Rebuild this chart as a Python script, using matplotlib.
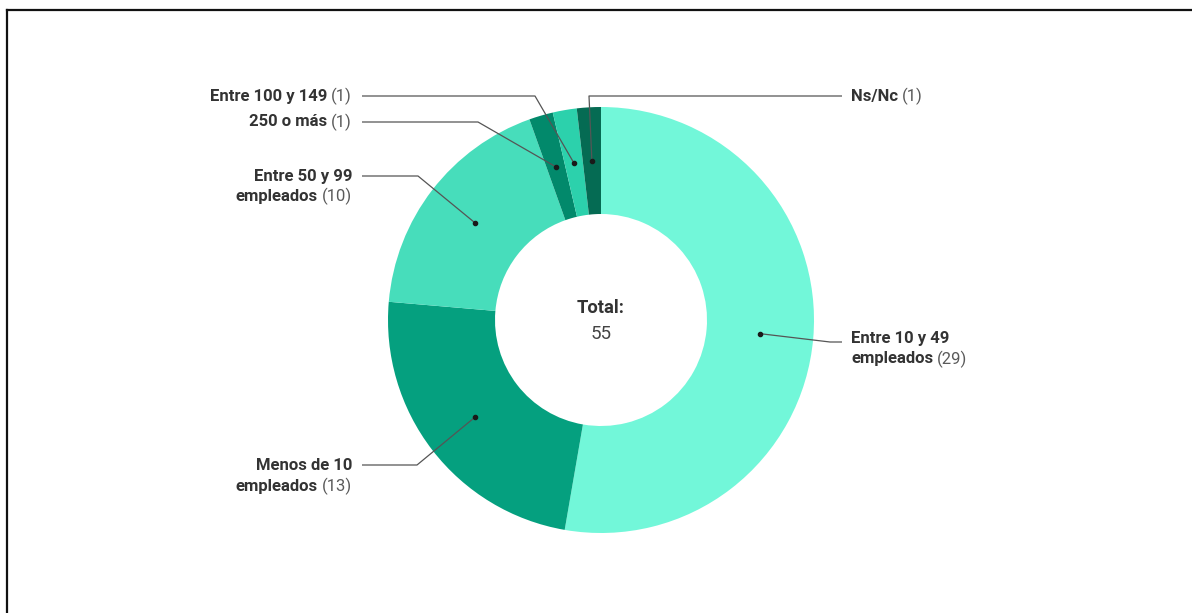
import matplotlib
matplotlib.use("Agg")
import matplotlib.pyplot as plt
import numpy as np

# Company size distribution
categories = ["Entre 10 y 49\nempleados", "Menos de 10\nempleados", "Entre 50 y 99\nempleados",
              "250 o más", "Entre 100 y 149", "Ns/Nc"]
counts = [29, 13, 10, 1, 1, 1]
colors = ["#72F7D9", "#05A07F", "#47DDBB", "#02896B", "#2CD1AC", "#056B53"]
center_title = "Total:"

W, H = 1192, 613
fig = plt.figure(figsize=(W / 100, H / 100), dpi=100)
ax = fig.add_axes([0, 0, 1, 1])

cx, cy = 601, H - 320
R_out, R_in = 213, 106
ax.pie(counts, colors=colors, startangle=90, counterclock=False,
       center=(cx, cy), radius=R_out,
       wedgeprops=dict(width=R_out - R_in, linewidth=0))
ax.set_xlim(0, W)
ax.set_ylim(0, H)
ax.set_aspect("equal")
ax.axis("off")

total = sum(counts)
cum = np.cumsum(counts)
mid_deg = (cum - np.array(counts) / 2) / total * 360.0
r_mid = (R_out + R_in) / 2


def anchor(i):
    th = np.radians(mid_deg[i])
    return cx + r_mid * np.sin(th), cy + r_mid * np.cos(th)


def py(v):
    return H - v


FS = 12.0
BOLD_C = "#333333"
NUM_C = "#5a5a5a"
LINE_C = "#555555"

# leader routes (elbow, end) and label placement per category
layout = {
    0: dict(route=[(830, 342), (842, 342)], tx=851, ty=[339, 359], align="left"),
    1: dict(route=[(417, 465), (362, 465)], tx=352, ty=[465, 486], align="right"),
    2: dict(route=[(418, 176), (362, 176)], tx=352, ty=[176, 196], align="right"),
    3: dict(route=[(478, 122), (362, 122)], tx=352, ty=[122], align="right"),
    4: dict(route=[(535, 96), (362, 96)], tx=352, ty=[96], align="right"),
    5: dict(route=[(589, 96), (842, 96)], tx=851, ty=[96], align="left"),
}

fig.canvas.draw()
rend = fig.canvas.get_renderer()
inv = ax.transData.inverted()
GAP = 4.0


def draw_parts(x, y, parts, align):
    if align == "left":
        cur = x
        for s, w, c in parts:
            t = ax.text(cur, y, s, ha="left", va="center", fontsize=FS,
                        fontweight=w, color=c, family="Roboto")
            bb = t.get_window_extent(renderer=rend)
            cur = inv.transform((bb.x1, 0))[0] + GAP
    else:
        cur = x
        for s, w, c in reversed(parts):
            t = ax.text(cur, y, s, ha="right", va="center", fontsize=FS,
                        fontweight=w, color=c, family="Roboto")
            bb = t.get_window_extent(renderer=rend)
            cur = inv.transform((bb.x0, 0))[0] - GAP


for i, name in enumerate(categories):
    spec = layout[i]
    ax0, ay0 = anchor(i)
    xs = [ax0] + [p[0] for p in spec["route"]]
    ys = [ay0] + [py(p[1]) for p in spec["route"]]
    ax.plot(xs, ys, color=LINE_C, lw=0.9, solid_capstyle="butt", zorder=3)
    ax.plot([ax0], [ay0], "o", color="#1a1a1a", ms=3.0, zorder=4)

    lines = name.split("\n")
    num = f"({counts[i]})"
    for j, ln in enumerate(lines):
        parts = [(ln, "bold", BOLD_C)]
        if j == len(lines) - 1:
            parts.append((num, "normal", NUM_C))
        draw_parts(spec["tx"], py(spec["ty"][j]), parts, spec["align"])

ax.text(cx, py(308), center_title, ha="center", va="center", fontsize=13.2,
        fontweight="bold", color="#333333", family="Roboto")
ax.text(cx, py(334), str(total), ha="center", va="center", fontsize=13.5,
        color="#444444", family="Roboto")

# frame lines
ax.plot([7, W + 5], [py(10), py(10)], color="#111111", lw=1.6, clip_on=False)
ax.plot([7, 7], [py(10), -5], color="#111111", lw=1.6, clip_on=False)

fig.savefig("out.png", dpi=100, facecolor="white")
